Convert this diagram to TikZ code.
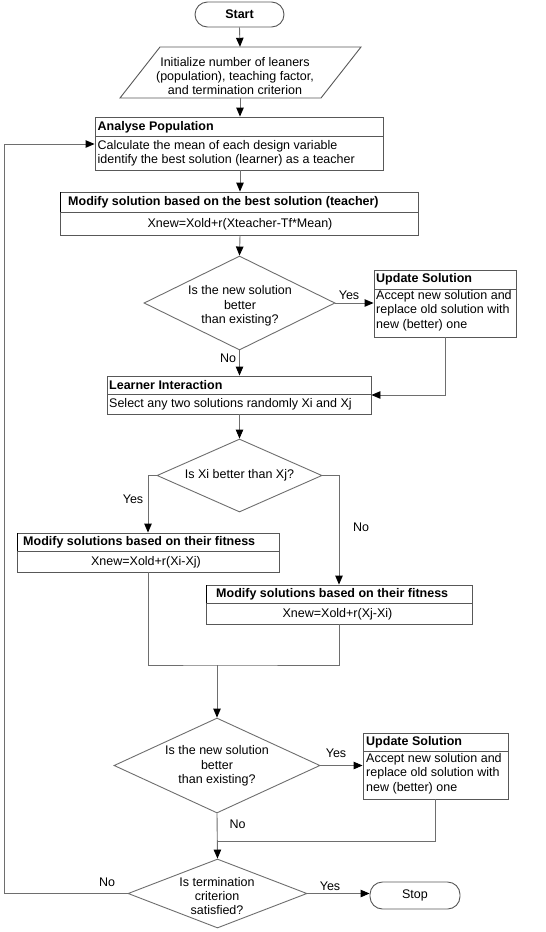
\documentclass[tikz,border=0pt]{standalone}
\usepackage{fontspec}
\setmainfont{Liberation Sans}
\usetikzlibrary{shapes.geometric,arrows.meta}
\definecolor{lgray}{HTML}{6E6E6E}
\definecolor{bgray}{HTML}{585858}
\begin{document}
\begin{tikzpicture}[x=1pt,y=-1pt,
  font=\fontsize{12.5}{14.3}\selectfont,
  ln/.style={draw=lgray, line width=0.9pt},
  arr/.style={ln, -{Triangle[length=9pt,width=7.5pt,color=black]}},
  box/.style={draw=bgray, line width=0.9pt, rectangle, inner sep=0pt, fill=white},
  term/.style={box, rounded corners=12.5pt},
  dia/.style={draw=lgray, line width=0.9pt, diamond, inner sep=0pt},
  hdr/.style={anchor=west, inner sep=0pt, font=\fontsize{12.5}{14.3}\selectfont\bfseries},
  bodyl/.style={anchor=west, inner sep=0pt, align=left},
  bodyc/.style={inner sep=0pt, align=center},
  lbl/.style={inner sep=0pt},
  dark/.style={draw=black, line width=1.6pt}
]
\useasboundingbox (0,0) rectangle (546,932);
\fill[white] (0,0) rectangle (546,932);

% Start
\node[term, minimum width=89pt, minimum height=25pt, font=\fontsize{12.5}{14.3}\selectfont\bfseries] (start) at (239.5,14.5) {Start};

% Initialize (parallelogram)
\draw[ln, draw=bgray] (120,98) -- (160,47) -- (361,47) -- (321,98) -- cycle;
\node[inner sep=0pt, minimum height=51pt, minimum width=160pt] (init) at (240,72.5) {};
\node[bodyc] (initt) at (235,76) {Initialize number of leaners\\(population), teaching factor,\\and termination criterion};

% Analyse Population
\node[box, minimum width=288pt, minimum height=53pt] (ap) at (239,143.5) {};
\draw[ln, draw=bgray] (95,136) -- (383,136);
\node[hdr] (aph) at (97.5,127) {Analyse Population};
\node[bodyl] (apb) at (97.5,153) {Calculate the mean of each design variable\\identify the best solution (learner) as a teacher};

% Modify solution (teacher)
\node[box, minimum width=358pt, minimum height=43pt] (ms) at (239,213.5) {};
\draw[ln, draw=bgray] (60,212) -- (418,212);
\draw[dark] (60.5,192) -- (60.5,212);
\node[hdr] (msh) at (68,202) {Modify solution based on the best solution (teacher)};
\node[bodyc] (msb) at (240,224) {Xnew=Xold+r(Xteacher-Tf*Mean)};

% Decision 1
\node[dia, minimum width=191pt, minimum height=94pt] (d1) at (239.5,303) {};
\node[bodyc] (d1t) at (240,306) {Is the new solution\\better\\than existing?};

% Update Solution 1
\node[box, minimum width=142pt, minimum height=67pt] (us1) at (445,303.5) {};
\draw[ln, draw=bgray] (374,289) -- (516,289);
\node[hdr] (us1h) at (376,279) {Update Solution};
\node[bodyl] (us1b) at (376,310.5) {Accept new solution and\\replace old solution with\\new (better) one};

% Learner Interaction
\node[box, minimum width=264pt, minimum height=38pt] (li) at (239,395) {};
\draw[ln, draw=bgray] (107,394) -- (371,394);
\node[hdr] (lih) at (109,385.5) {Learner Interaction};
\node[bodyl] (lib) at (109,404) {Select any two solutions randomly Xi and Xj};

% Decision 2
\node[dia, minimum width=165pt, minimum height=73pt] (d2) at (239.5,475.5) {};
\node[bodyc] (d2t) at (239.5,475) {Is Xi better than Xj?};

% Modify A
\node[box, minimum width=262pt, minimum height=39pt] (ma) at (148,552.5) {};
\draw[ln, draw=bgray] (17,551) -- (279,551);
\draw[dark] (17.5,533) -- (17.5,551);
\node[hdr] (mah) at (23,542) {Modify solutions based on their fitness};
\node[bodyc] (mab) at (146,562) {Xnew=Xold+r(Xi-Xj)};

% Modify B
\node[box, minimum width=266pt, minimum height=39pt] (mb) at (339,604.5) {};
\draw[ln, draw=bgray] (206,603) -- (472,603);
\draw[dark] (206.5,585) -- (206.5,603);
\node[hdr] (mbh) at (216,594) {Modify solutions based on their fitness};
\node[bodyc] (mbb) at (337.5,614.5) {Xnew=Xold+r(Xj-Xi)};

% Decision 3
\node[dia, minimum width=206pt, minimum height=95pt] (d3) at (217,765.5) {};
\node[bodyc] (d3t) at (217,766) {Is the new solution\\better\\than existing?};

% Update Solution 2
\node[box, minimum width=145pt, minimum height=66pt] (us2) at (435.5,766) {};
\draw[ln, draw=bgray] (363,751) -- (508,751);
\node[hdr] (us2h) at (366,742) {Update Solution};
\node[bodyl] (us2b) at (366,773.5) {Accept new solution and\\replace old solution with\\new (better) one};

% Decision 4
\node[dia, minimum width=179pt, minimum height=69pt] (d4) at (217.5,893.5) {};
\node[bodyc] (d4t) at (217,896) {Is termination\\criterion\\satisfied?};

% Stop
\node[term, minimum width=90pt, minimum height=27pt] (stop) at (415,895.5) {Stop};

% junction coordinates
\coordinate (j1) at (217,665);
\coordinate (j2) at (217,841);

% Connectors
\draw[arr] (start.south) -- (init.north);
\draw[arr] (init.south) -- (ap.north -| init.south);
\draw[arr] (ap.south -| init.south) -- (ms.north -| init.south);
\draw[arr] (ms.south -| init.south) -- (d1.north);
\draw[arr] (d1.east) -- (us1.west |- d1.east);
\draw[arr] (d1.south) -- (li.north -| d1.south);
\draw[arr] (us1.south) |- (li.east);
\draw[arr] (li.south -| d2.north) -- (d2.north);
\draw[arr] (d2.west) -| (ma.north);
\draw[arr] (d2.east) -| (mb.north);
\draw[ln] (ma.south) |- (j1) -| (mb.south);
\draw[arr] (j1) -- (d3.north);
\draw[arr] (d3.east) -- (us2.west |- d3.east);
\draw[ln] (us2.south) |- (j2);
\draw[arr] (d3.south) -- (d4.north);
\draw[arr] (d4.east) -- (stop.west |- d4.east);
\draw[arr] (d4.west) -- (4,893.5) -- (4,144) -- (ap.west |- 0,144);

% Labels
\node[lbl] (y1) at (349,295) {Yes};
\node[lbl] (n1) at (228,358) {No};
\node[lbl] (y2) at (133,499) {Yes};
\node[lbl] (n2) at (361,527) {No};
\node[lbl] (y3) at (336,753) {Yes};
\node[lbl] (n3) at (237.5,824) {No};
\node[lbl] (y4) at (330,886) {Yes};
\node[lbl] (n4) at (107,882) {No};
\end{tikzpicture}
\end{document}
